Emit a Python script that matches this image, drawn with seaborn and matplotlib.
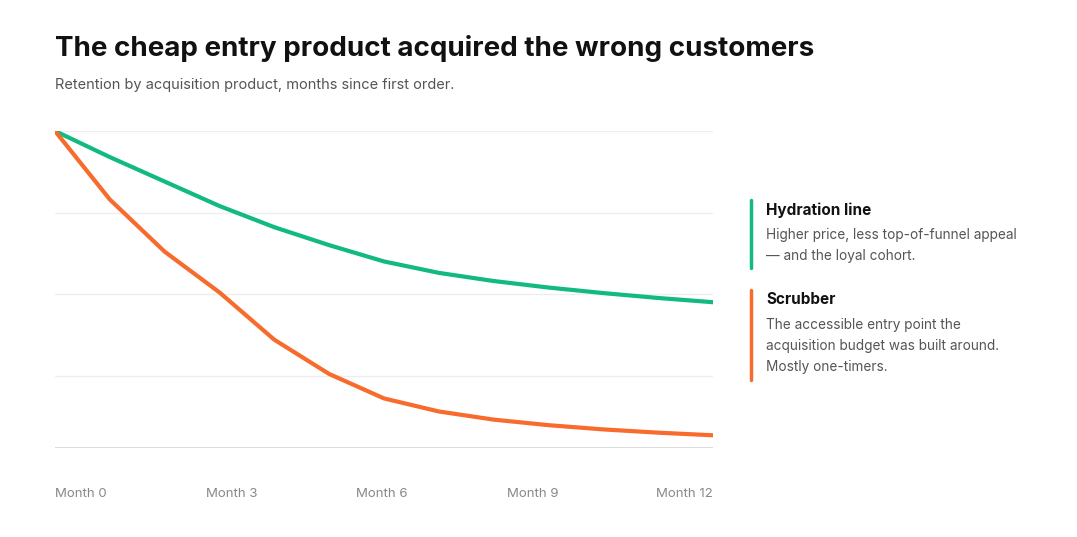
import numpy as np
import pandas as pd
import seaborn as sns
import matplotlib.pyplot as plt

months = list(range(13))
hydration = [100, 92, 84.5, 77, 70.5, 65, 60, 56.5, 54, 52, 50.3, 48.8, 47.5]
scrubber = [100, 79, 63, 50.5, 36, 25.5, 18, 14, 11.5, 9.8, 8.5, 7.5, 6.7]
tick_labels = ["Month 0", "Month 3", "Month 6", "Month 9", "Month 12"]

green = "#12b981"
orange = "#f76b2c"

df = pd.DataFrame({"month": months * 2,
                   "retention": hydration + scrubber,
                   "product": ["Hydration line"] * 13 + ["Scrubber"] * 13})

sns.set_style("white")
plt.rcParams['font.family'] = ['Inter', 'DejaVu Sans']

fig = plt.figure(figsize=(10.77, 5.37), dpi=100)
ax = fig.add_axes([55 / 1077, 1 - 448 / 537, (713 - 55) / 1077, (448 - 131) / 537])

sns.lineplot(data=df, x="month", y="retention", hue="product",
             palette=[green, orange], linewidth=3, legend=False, ax=ax)

ax.set_xlim(0, 12)
ax.set_ylim(2.8, 100)
for y in [100, 75, 50, 25]:
    ax.axhline(y, color="#eeeeee", lw=1, zorder=0)
ax.axhline(2.8, color="#dddddd", lw=1.5, zorder=0)
for s in ax.spines.values():
    s.set_visible(False)
ax.set_yticks([])
ax.set_xticks([])
ax.set_xlabel("")
ax.set_ylabel("")

# category-style evenly spaced labels
n = len(tick_labels)
for i, lab in enumerate(tick_labels):
    ha = "left" if i == 0 else ("right" if i == n - 1 else "center")
    xpos = [0, 0.269, 0.497, 0.726, 1][i]
    ax.text(xpos, -46 / 317, lab, transform=ax.transAxes, ha=ha, va="center",
            fontsize=9.5, color="#888888")

fig.text(55 / 1077, 1 - 48 / 537, "The cheap entry product acquired the wrong customers",
         fontsize=20, fontweight="bold", color="#111111", va="center")
fig.text(55 / 1077, 1 - 85 / 537, "Retention by acquisition product, months since first order.",
         fontsize=10.5, color="#555555", va="center")

# annotations
fig.add_artist(plt.Line2D([751 / 1077] * 2, [1 - 200 / 537, 1 - 268 / 537], color=green, lw=2.5))
fig.text(766 / 1077, 1 - 210 / 537, "Hydration line", fontsize=11, fontweight="bold", color="#111111", va="center")
fig.text(766 / 1077, 1 - 228 / 537, "Higher price, less top-of-funnel appeal\n— and the loyal cohort.",
         fontsize=9.8, color="#555555", va="top", linespacing=1.65)

fig.add_artist(plt.Line2D([751 / 1077] * 2, [1 - 290 / 537, 1 - 380 / 537], color=orange, lw=2.5))
fig.text(766 / 1077, 1 - 300 / 537, "Scrubber", fontsize=11, fontweight="bold", color="#111111", va="center")
fig.text(766 / 1077, 1 - 318 / 537, "The accessible entry point the\nacquisition budget was built around.\nMostly one-timers.",
         fontsize=9.8, color="#555555", va="top", linespacing=1.65)

fig.savefig("out.png", dpi=100)
